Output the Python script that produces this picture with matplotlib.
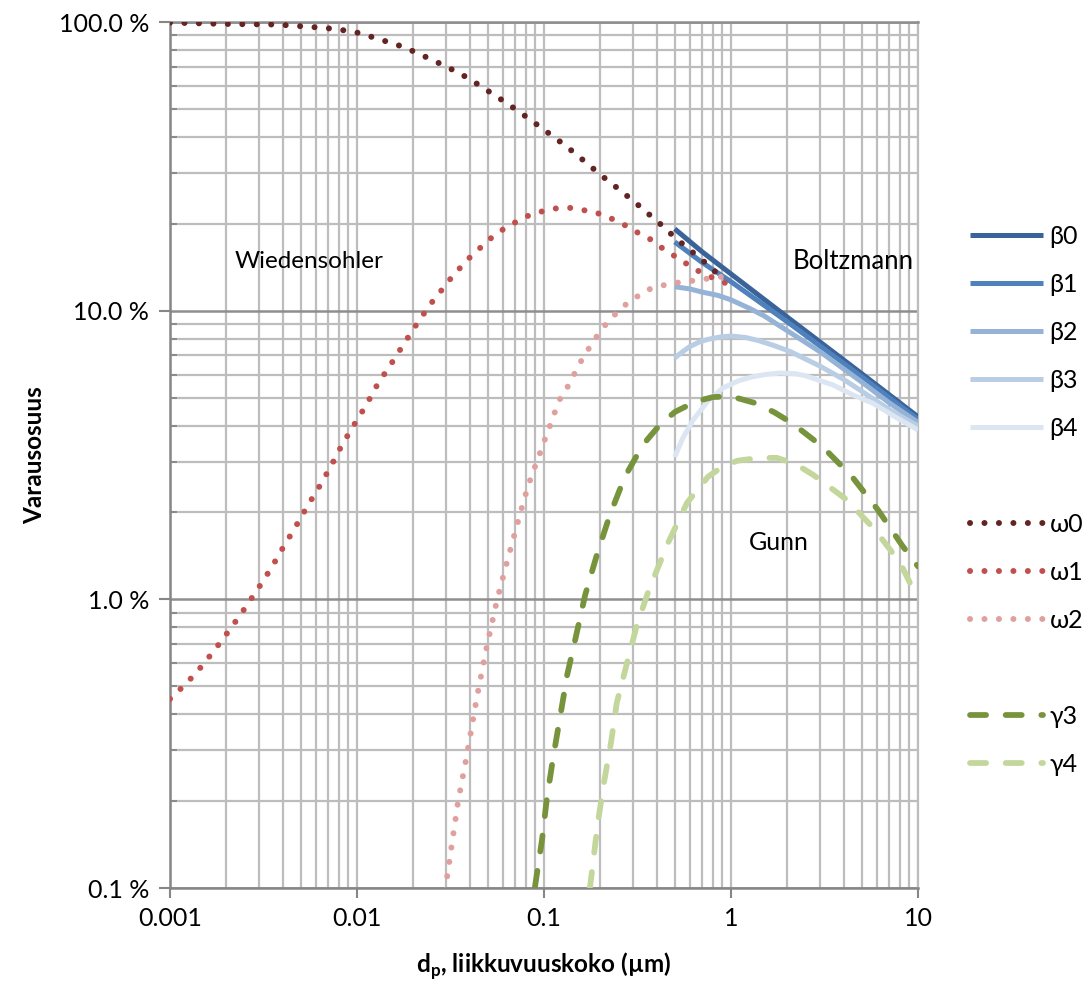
import matplotlib
matplotlib.use("Agg")
import matplotlib.pyplot as plt
from matplotlib.lines import Line2D
from matplotlib.ticker import FixedLocator, NullFormatter, LogLocator

plt.rcParams['font.family'] = ['Lato', 'DejaVu Sans']
plt.rcParams['mathtext.fontset'] = 'custom'
plt.rcParams['mathtext.bf'] = 'Lato:bold'
plt.rcParams['mathtext.rm'] = 'Lato'

# ---------------- data ----------------
# Wiedensohler, omega0..omega2
x_w0 = [0.001, 0.00207, 0.00373, 0.00574, 0.00772, 0.01025, 0.0136, 0.0178, 0.0234,
        0.0303, 0.0392, 0.0502, 0.0642, 0.0821, 0.1037, 0.131, 0.164, 0.204, 0.258,
        0.322, 0.449, 0.497, 0.734, 0.906]
y_w0 = [99.5, 98.4, 98.0, 96.1, 94.6, 91.6, 86.6, 81.9, 75.6,
        69.9, 64.0, 57.7, 52.0, 46.5, 41.6, 37.2, 33.0, 29.3, 26.0,
        23.1, 19.2, 18.0, 14.6, 12.9]

x_w1 = [0.001, 0.00123, 0.0015, 0.00178, 0.00212, 0.00252, 0.00296, 0.00347, 0.00402,
        0.00466, 0.0054, 0.00627, 0.00727, 0.00832, 0.00964, 0.0112, 0.0129, 0.0152,
        0.0178, 0.0209, 0.0246, 0.0296, 0.0322, 0.0393, 0.0438, 0.0483, 0.054, 0.061,
        0.069, 0.079, 0.0906, 0.104, 0.120, 0.139, 0.162, 0.185, 0.212, 0.243, 0.278,
        0.314, 0.360, 0.402, 0.449, 0.514, 0.582, 0.658, 0.735, 0.953]
y_w1 = [0.452, 0.513, 0.593, 0.684, 0.796, 0.933, 1.09, 1.28, 1.51,
        1.77, 2.09, 2.45, 2.90, 3.43, 4.02, 4.71, 5.57, 6.53,
        7.67, 9.0, 10.5, 12.2, 13.1, 15.1, 16.1, 17.1, 18.2, 19.2,
        20.1, 21.1, 21.8, 22.3, 22.7, 22.7, 22.3, 22.0, 21.3, 20.5, 19.6,
        18.7, 17.9, 17.0, 16.1, 15.3, 14.5, 13.8, 13.3, 12.4]

x_w2 = [0.0296, 0.0347, 0.0387, 0.0438, 0.049, 0.0561, 0.0642, 0.0781, 0.0851, 0.094,
        0.104, 0.109, 0.120, 0.131, 0.160, 0.187, 0.223, 0.278, 0.356, 0.466, 0.627, 0.953]
y_w2 = [0.098, 0.199, 0.289, 0.459, 0.668, 0.995, 1.39, 2.21, 2.64, 3.14,
        3.77, 4.08, 4.87, 5.31, 6.80, 7.98, 9.29, 10.6, 11.8, 12.4, 12.7, 13.2]

# Boltzmann, beta0..beta4
x_b0 = [0.5, 0.7, 1.0, 2.0, 5.0, 10.0]
y_b0 = [19.2, 16.0, 13.4, 9.5, 6.05, 4.29]
x_b1 = [0.5, 0.7, 1.0, 2.0, 5.0, 10.0]
y_b1 = [17.3, 14.7, 12.6, 9.15, 5.9, 4.2]
x_b2 = [0.5, 0.6, 0.7, 0.85, 1.0, 1.25, 1.5, 2.07, 3.0, 5.0, 7.0, 10.0]
y_b2 = [12.1, 11.9, 11.6, 11.3, 10.9, 10.2, 9.6, 8.4, 7.2, 5.66, 4.8, 4.1]
x_b3 = [0.5, 0.55, 0.6, 0.68, 0.75, 0.87, 1.0, 1.2, 1.4, 1.7, 2.07, 3.0, 4.0, 5.0, 7.0, 10.0]
y_b3 = [6.86, 7.2, 7.5, 7.8, 7.95, 8.1, 8.17, 8.07, 7.88, 7.57, 7.22, 6.42, 5.78, 5.26, 4.55, 3.98]
x_b4 = [0.5, 0.55, 0.627, 0.75, 0.906, 1.1, 1.3, 1.55, 1.83, 2.2, 2.5, 3.51, 4.5, 5.74, 7.5, 10.0]
y_b4 = [3.11, 3.6, 4.18, 4.85, 5.40, 5.72, 5.9, 6.02, 6.08, 6.05, 5.95, 5.53, 5.1, 4.78, 4.3, 3.86]

# Gunn, gamma3..gamma4
x_g3 = [0.0895, 0.0976, 0.1037, 0.112, 0.122, 0.133, 0.148, 0.166, 0.192, 0.225, 0.27,
        0.326, 0.356, 0.42, 0.502, 0.65, 0.802, 1.0, 1.34, 1.7, 2.12, 3.10, 4.44, 6.11, 8.21, 10.0]
y_g3 = [0.101, 0.147, 0.205, 0.284, 0.392, 0.547, 0.741, 1.035, 1.43, 1.96, 2.65,
        3.29, 3.57, 4.05, 4.46, 4.85, 5.02, 5.05, 4.79, 4.45, 4.08, 3.37, 2.66, 2.04, 1.54, 1.3]
x_g4 = [0.176, 0.194, 0.209, 0.228, 0.245, 0.278, 0.314, 0.364, 0.461, 0.582, 0.754,
        0.9, 1.08, 1.4, 1.76, 2.2, 2.75, 4.17, 5.89, 8.01, 9.64, 10.0]
y_g4 = [0.1, 0.168, 0.231, 0.318, 0.438, 0.602, 0.815, 1.08, 1.57, 2.16, 2.66,
        2.88, 3.02, 3.09, 3.09, 2.95, 2.70, 2.21, 1.74, 1.34, 1.05, 1.0]

y_ticks = [0.1, 1.0, 10.0, 100.0]
y_tick_labels = ['0.1 %', '1.0 %', '10.0 %', '100.0 %']
x_ticks = [0.001, 0.01, 0.1, 1, 10]
x_tick_labels = ['0.001', '0.01', '0.1', '1', '10']

# ---------------- figure ----------------
W, H = 1087, 981
fig = plt.figure(figsize=(W / 100, H / 100), dpi=100)
ax = fig.add_axes([170 / W, 1 - 888 / H, (918 - 170) / W, (888 - 22) / H])
ax.set_xscale('log')
ax.set_yscale('log')
ax.set_xlim(0.001, 10)
ax.set_ylim(0.1, 100)

lw = 3.6
dot = (0, (0.01, 2.4))
dash = (0, (2.8, 3.4))

colors_b = ['#3a6399', '#4f81bd', '#95b3d7', '#b9cde5', '#dce6f2']
colors_w = ['#632523', '#c0504d', '#e0a09e']
colors_g = ['#77933c', '#c3d69b']

handles = []
for xs, ys, c, lab in zip([x_b0, x_b1, x_b2, x_b3, x_b4], [y_b0, y_b1, y_b2, y_b3, y_b4],
                          colors_b, ['β0', 'β1', 'β2', 'β3', 'β4']):
    h, = ax.plot(xs, ys, color=c, lw=lw, solid_capstyle='butt', label=lab, zorder=3)
    handles.append(h)
handles.append(Line2D([], [], color='none', label=' '))
for xs, ys, c, lab in zip([x_w0, x_w1, x_w2], [y_w0, y_w1, y_w2], colors_w, ['ω0', 'ω1', 'ω2']):
    h, = ax.plot(xs, ys, color=c, lw=lw * 1.2, linestyle=dot, dash_capstyle='round',
                 label=lab, zorder=4)
    handles.append(h)
handles.append(Line2D([], [], color='none', label=' '))
for xs, ys, c, lab in zip([x_g3, x_g4], [y_g3, y_g4], colors_g, ['γ3', 'γ4']):
    h, = ax.plot(xs, ys, color=c, lw=lw * 1.15, linestyle=dash, dash_capstyle='round',
                 label=lab, zorder=3)
    handles.append(h)

# grid
ax.xaxis.set_minor_locator(LogLocator(base=10, subs=range(2, 10)))
ax.yaxis.set_minor_locator(LogLocator(base=10, subs=range(2, 10)))
ax.xaxis.set_minor_formatter(NullFormatter())
ax.yaxis.set_minor_formatter(NullFormatter())
ax.grid(which='both', axis='x', color='#bdbdbd', lw=1.6, zorder=0)
ax.grid(which='minor', axis='y', color='#bdbdbd', lw=1.6, zorder=0)
ax.grid(which='major', axis='y', color='#8e8e8e', lw=1.8, zorder=0)
ax.set_axisbelow(True)

ax.yaxis.set_major_locator(FixedLocator(y_ticks))
ax.set_yticklabels(y_tick_labels)
ax.xaxis.set_major_locator(FixedLocator(x_ticks))
ax.set_xticklabels(x_tick_labels)

for s in ['left', 'bottom']:
    ax.spines[s].set_color('#868686')
    ax.spines[s].set_linewidth(1.8)
ax.spines['top'].set_color('#8e8e8e')
ax.spines['top'].set_linewidth(1.8)
ax.spines['right'].set_color('#bdbdbd')
ax.spines['right'].set_linewidth(1.6)

ax.tick_params(axis='y', which='major', direction='out', length=8, width=1.5, color='#868686',
               labelsize=18, pad=7)
ax.tick_params(axis='y', which='minor', direction='in', length=5, width=1.3, color='#868686')
ax.tick_params(axis='x', which='major', direction='out', length=7, width=1.5, color='#868686',
               labelsize=18, pad=7)
ax.tick_params(axis='x', which='minor', length=0)

fig.text(35 / W, 1 - 455 / H, 'Varausosuus', rotation=90, ha='center', va='center',
         fontsize=17.5, fontweight='bold')
fig.text(544 / W, 1 - 966 / H, r'd$_{\mathbf{p}}$, liikkuvuuskoko (µm)', ha='center', va='center',
         fontsize=17.5, fontweight='bold')

ax.text(0.00553, 14.8, 'Wiedensohler', ha='center', va='center', fontsize=17.5)
ax.text(4.49, 14.8, 'Boltzmann', ha='center', va='center', fontsize=18.5)
ax.text(1.81, 1.57, 'Gunn', ha='center', va='center', fontsize=18)

leg = fig.legend(handles=handles, loc='upper left', bbox_to_anchor=(970 / W, 1 - 225 / H),
                 frameon=False, fontsize=18, handlelength=2.9, handletextpad=0.28,
                 labelspacing=1.0, borderpad=0, borderaxespad=0)

fig.savefig('out.png', dpi=100)
